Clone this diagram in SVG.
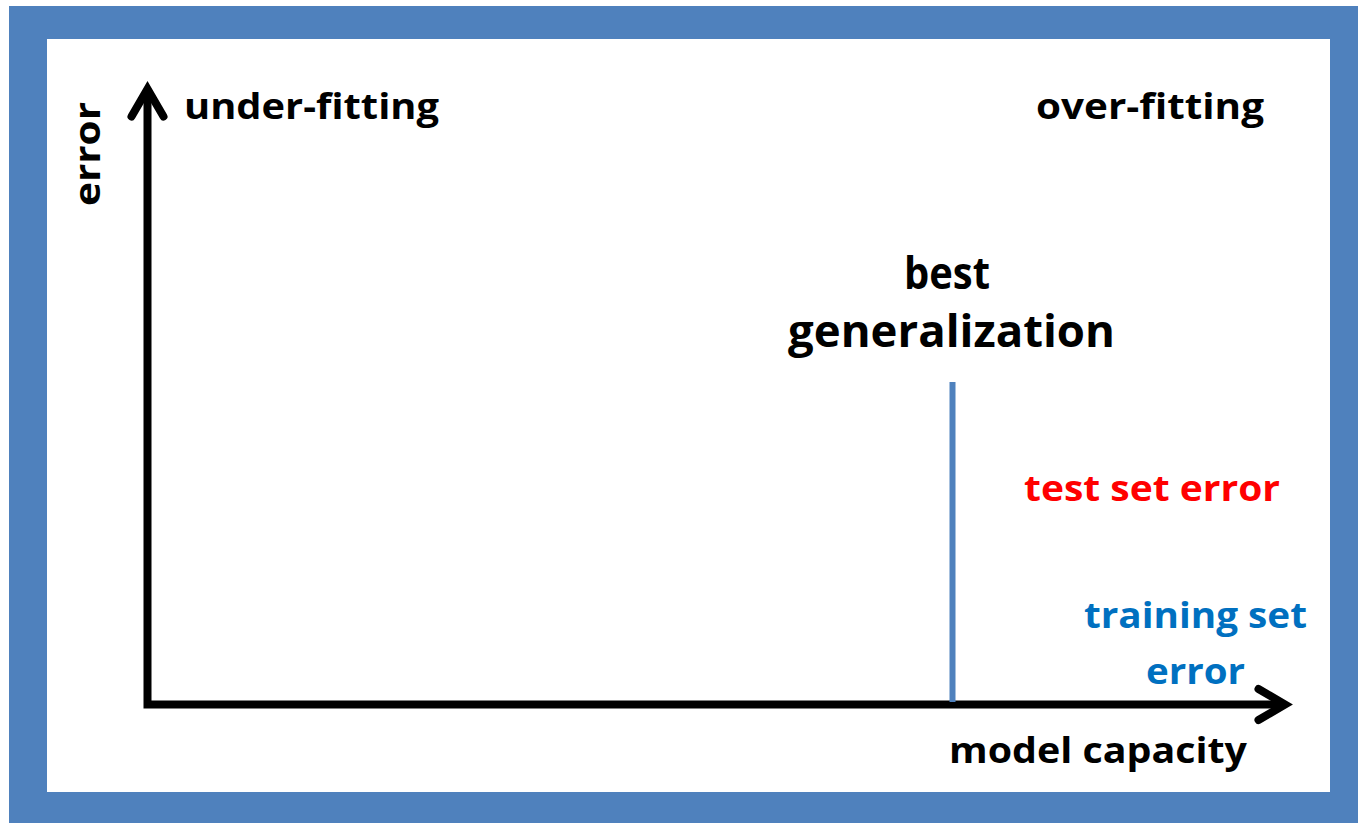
<svg xmlns="http://www.w3.org/2000/svg" width="1358" height="823" viewBox="0 0 1358 823">
  <style>
    .lbl { font-family: "Open Sans", "Liberation Sans", sans-serif; font-weight: 700; }
    .black { fill: #000000; }
    .red { fill: #FF0000; }
    .blue { fill: #0070C0; }
    .axis { fill: none; stroke: #000000; stroke-width: 8; }
    .head { fill: none; stroke: #000000; stroke-width: 8; stroke-linecap: round; stroke-linejoin: miter; }
  </style>

  <!-- frame -->
  <rect x="9" y="6" width="1349" height="817" fill="#4F81BD"/>
  <rect x="47" y="39" width="1283" height="753" fill="#FFFFFF"/>

  <!-- axes and marker line -->
  <g id="connectors">
    <path class="axis" d="M147.5,94 V704.5 H1281" stroke-linejoin="miter"/>
    <polyline class="head" points="131.5,116.5 147.5,89 163.5,116.5"/>
    <polyline class="head" points="1258.5,689 1285,704.5 1258.5,720"/>
    <line x1="952.5" y1="382" x2="952.5" y2="702" stroke="#4F81BD" stroke-width="6"/>
  </g>

  <g id="label-error-axis">
    <text class="lbl black" font-size="35" transform="translate(100,206) rotate(-90)" x="0" y="0" textLength="104" lengthAdjust="spacingAndGlyphs">error</text>
  </g>
  <g id="label-under-fitting">
    <text class="lbl black" font-size="35" x="184" y="119" textLength="255" lengthAdjust="spacingAndGlyphs">under-fitting</text>
  </g>
  <g id="label-over-fitting">
    <text class="lbl black" font-size="35" x="1036" y="119" textLength="228" lengthAdjust="spacingAndGlyphs">over-fitting</text>
  </g>
  <g id="label-best-generalization">
    <text class="lbl black" font-size="45" x="904" y="289" textLength="86" lengthAdjust="spacingAndGlyphs">best</text>
    <text class="lbl black" font-size="45" x="788" y="347" textLength="327" lengthAdjust="spacingAndGlyphs">generalization</text>
  </g>
  <g id="label-test-set-error">
    <text class="lbl red" font-size="35" x="1024" y="501" textLength="256" lengthAdjust="spacingAndGlyphs">test set error</text>
  </g>
  <g id="label-training-set-error">
    <text class="lbl blue" font-size="36" x="1084" y="628" textLength="223" lengthAdjust="spacingAndGlyphs">training set</text>
    <text class="lbl blue" font-size="36" x="1146" y="684" textLength="99" lengthAdjust="spacingAndGlyphs">error</text>
  </g>
  <g id="label-model-capacity">
    <text class="lbl black" font-size="35" x="949" y="763" textLength="298" lengthAdjust="spacingAndGlyphs">model capacity</text>
  </g>
</svg>
